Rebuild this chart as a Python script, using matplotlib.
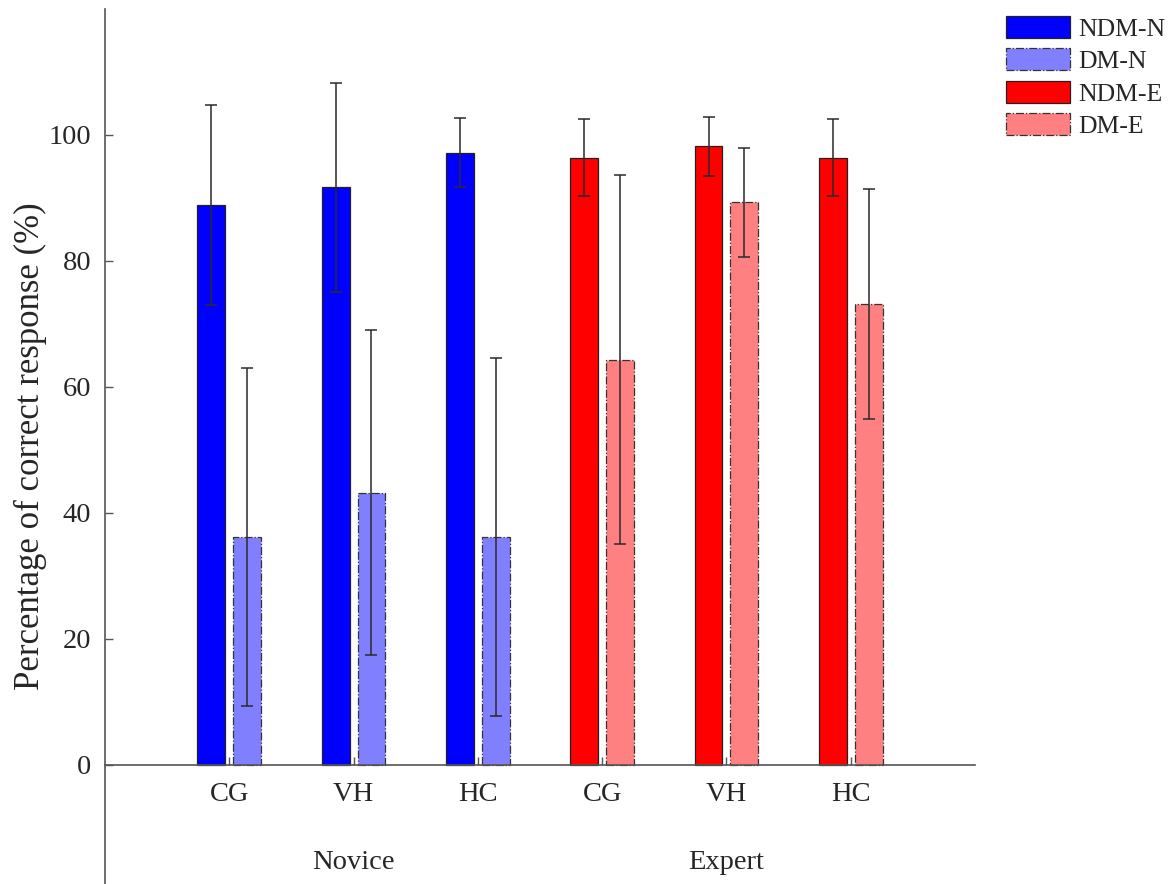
"""Correct-response percentages by group and condition, bar chart with error bars."""
import matplotlib
matplotlib.use("Agg")
import matplotlib.pyplot as plt
import numpy as np

# conditions and groups
conditions = ["CG", "VH", "HC"]
groups = ["Novice", "Expert"]

# means (%) and error half-widths
ndm_n = [88.9, 91.7, 97.2]
ndm_n_err = [15.9, 16.6, 5.5]
dm_n = [36.2, 43.2, 36.2]
dm_n_err = [26.8, 25.8, 28.4]
ndm_e = [96.4, 98.2, 96.4]
ndm_e_err = [6.1, 4.7, 6.1]
dm_e = [64.3, 89.3, 73.2]
dm_e_err = [29.3, 8.6, 18.3]

TXT = "#262626"
AX = "#555555"
plt.rcParams["font.family"] = ["Liberation Serif", "DejaVu Serif"]

fig = plt.figure(figsize=(11.75, 8.84), dpi=100)
ax = fig.add_axes([105 / 1175, 0.0, 870 / 1175, 875 / 884])

w = 0.224
off = 0.144
xn = np.arange(1, 4)
xe = np.arange(4, 7)

ax.bar(xn - off, ndm_n, w, color="#0000ff", edgecolor="#222222", linewidth=0.9, label="NDM-N", zorder=2)
ax.bar(xn + off, dm_n, w, color="#8080ff", edgecolor="#333333", linewidth=0.9, linestyle="-.", label="DM-N", zorder=2)
ax.bar(xe - off, ndm_e, w, color="#ff0000", edgecolor="#222222", linewidth=0.9, label="NDM-E", zorder=2)
ax.bar(xe + off, dm_e, w, color="#ff8080", edgecolor="#333333", linewidth=0.9, linestyle="-.", label="DM-E", zorder=2)

ekw = dict(fmt="none", ecolor="#2a2a2a", elinewidth=1.1, capsize=4.5, capthick=1.1, zorder=3)
ax.errorbar(xn - off, ndm_n, yerr=ndm_n_err, **ekw)
ax.errorbar(xn + off, dm_n, yerr=dm_n_err, **ekw)
ax.errorbar(xe - off, ndm_e, yerr=ndm_e_err, **ekw)
ax.errorbar(xe + off, dm_e, yerr=dm_e_err, **ekw)

ax.set_xlim(0, 7)
ax.set_ylim(-18.9, 120)
ax.set_yticks([0, 20, 40, 60, 80, 100])
ax.set_xticks(np.arange(1, 7))
ax.set_xticklabels(conditions + conditions)

ax.spines["top"].set_visible(False)
ax.spines["right"].set_visible(False)
ax.spines["bottom"].set_position(("data", 0))
for s in ("left", "bottom"):
    ax.spines[s].set_color(AX)
    ax.spines[s].set_linewidth(1.2)

ax.tick_params(axis="both", direction="in", length=6, width=1.0, color=AX,
               labelsize=20.5, labelcolor=TXT)
ax.tick_params(axis="x", pad=12)
ax.tick_params(axis="y", pad=10)

ax.set_ylabel("Percentage of correct response (%)", fontsize=25, color=TXT, labelpad=1)

for i, g in enumerate(groups):
    ax.text(2 + 3 * i, -15.5, g, ha="center", va="center", fontsize=20.5, color=TXT)

ax.legend(loc="upper left", bbox_to_anchor=(1006 / 1175, 1 - 16 / 884),
          bbox_transform=fig.transFigure, frameon=False, fontsize=18.5,
          handlelength=2.5, handleheight=0.93, handletextpad=0.3, labelspacing=0.3,
          borderpad=0, borderaxespad=0, labelcolor=TXT)

fig.savefig("out.png", dpi=100)
